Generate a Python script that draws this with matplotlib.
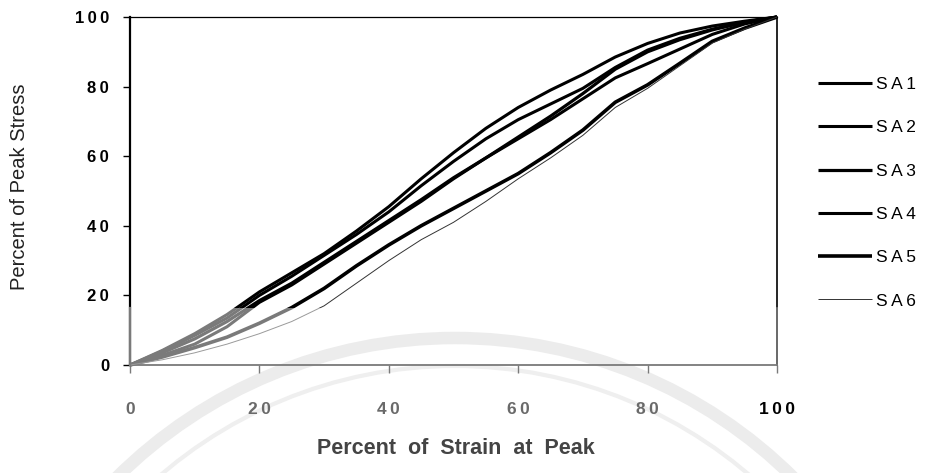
import matplotlib.pyplot as plt
from matplotlib.patches import Rectangle, Circle

# Strain / stress curves (percent of peak values)
strain = [0, 5, 10, 15, 20, 25, 30, 35, 40, 45, 50, 55, 60, 65, 70, 75, 80, 85, 90, 95, 100]
sa1 = [0, 4.2, 9, 14.5, 21, 26.5, 32, 38.5, 45.5, 53.5, 61, 68, 74, 79, 83.5, 88.5, 92.4, 95.4, 97.4, 98.8, 100]
sa2 = [0, 4, 8.5, 13.5, 20, 25.5, 31.5, 37.5, 44, 51.5, 58.5, 65, 70.5, 75, 79.5, 85.5, 90.5, 93.9, 96.5, 98.5, 100]
sa3 = [0, 3.5, 7.5, 12.5, 18.5, 23.5, 29.5, 35.5, 41.5, 47.5, 53.8, 59.5, 65.5, 71.5, 78, 85, 90, 93.5, 96.3, 98.5, 100]
sa4 = [0, 2.8, 6, 11, 18, 23, 29, 35, 41, 47, 53.5, 59.5, 65, 70.5, 76.5, 82.5, 86.6, 90.8, 95, 98, 100]
sa5 = [0, 2.3, 5, 8, 12, 16.5, 22, 28.5, 34.5, 40, 45, 50, 55, 61, 67.5, 75.5, 80.5, 86.7, 93, 96.8, 100]
sa6 = [0, 1.5, 3.5, 6, 9, 12.5, 17, 23.5, 30, 36, 41, 47, 53.5, 59.5, 66, 74, 79.5, 86, 92.5, 96.5, 100]

series = [('SA1', sa1), ('SA2', sa2), ('SA3', sa3), ('SA4', sa4), ('SA5', sa5), ('SA6', sa6)]
widths = {'SA1': 2.2, 'SA2': 2.2, 'SA3': 2.3, 'SA4': 2.2, 'SA5': 2.6, 'SA6': 0.7}
colors = {'SA6': '#333333'}

xticks = [0, 20, 40, 60, 80, 100]
yticks = [0, 20, 40, 60, 80, 100]

GRAY = '#7a7a7a'
BAND = 16.5   # below this level the print comes out gray
SP = '\u2009'

plt.rcParams['font.family'] = ['Liberation Sans', 'DejaVu Sans']

fig = plt.figure(figsize=(9.31, 4.73), dpi=100, facecolor='white')

# faint seal in the background
bg = fig.add_axes([0, 0, 1, 1], zorder=-1)
bg.set_xlim(0, 931)
bg.set_ylim(473, 0)
bg.axis('off')
bg.add_patch(Circle((455, 818), 480, fill=False, ec='#ececec', lw=9))
bg.add_patch(Circle((455, 818), 452, fill=False, ec='#efefef', lw=3))

ax = fig.add_axes([130 / 931, 1 - 365 / 473, (777 - 130) / 931, (365 - 17) / 473])
ax.set_facecolor('none')
ax.set_xlim(0, 100)
ax.set_ylim(0, 100)

handles = []
for name, vals in series:
    c = colors.get(name, 'black')
    top = ax.plot(strain, vals, color=c, lw=widths[name], solid_capstyle='butt', zorder=3)[0]
    top.set_clip_path(Rectangle((-5, BAND), 110, 110, transform=ax.transData))
    low = ax.plot(strain, vals, color='#9a9a9a' if name == 'SA6' else GRAY,
                  lw=widths[name], solid_capstyle='butt', zorder=3)[0]
    low.set_clip_path(Rectangle((-5, -5), 110, BAND + 5, transform=ax.transData))
    handles.append(top)

for side in ['left', 'right', 'top', 'bottom']:
    ax.spines[side].set_color('black')
ax.spines['left'].set_linewidth(1.6)
ax.spines['right'].set_linewidth(1.2)
ax.spines['top'].set_linewidth(0.9)
ax.spines['bottom'].set_color(GRAY)
ax.spines['bottom'].set_linewidth(1.3)
# gray lower ends of the side frame lines
ax.plot([0, 0], [0, BAND], color=GRAY, lw=1.6, clip_on=False, zorder=4)
ax.plot([100, 100], [0, BAND], color=GRAY, lw=1.2, clip_on=False, zorder=4)

ax.set_xticks(xticks)
ax.set_xticklabels([SP.join(str(t)) for t in xticks])
ax.set_yticks(yticks)
ax.set_yticklabels([SP.join(str(t)) for t in yticks])
ax.tick_params(axis='x', direction='out', length=6, width=1, color=GRAY, pad=21,
               labelsize=12.5, labelcolor='#6a6a6a')
ax.tick_params(axis='y', direction='out', length=5, width=1, color='black', pad=10,
               labelsize=12, labelcolor='black')
for lab in ax.get_xticklabels():
    lab.set_fontweight('bold')
ax.get_xticklabels()[-1].set_color('black')
for lab in ax.get_yticklabels():
    lab.set_fontweight('bold')
ax.yaxis.get_major_ticks()[0].tick1line.set_color(GRAY)

fig.text(456 / 931, 1 - 448 / 473, 'Percent  of  Strain  at  Peak', ha='center', va='center',
         fontsize=15.5, fontweight='bold', color='#444444')
fig.text(20 / 931, 1 - 187 / 473, 'Percent of Peak Stress', ha='center', va='center',
         rotation=90, fontsize=14.5, color='#222222')

fig.legend(handles, [SP.join(n) for n, _ in series], loc='upper left',
           bbox_to_anchor=(818 / 931, 1 - 77 / 473), frameon=False, fontsize=12.5,
           handlelength=3.1, handletextpad=0.25, labelspacing=1.62,
           borderpad=0, borderaxespad=0)

fig.savefig('out.png', dpi=100)
